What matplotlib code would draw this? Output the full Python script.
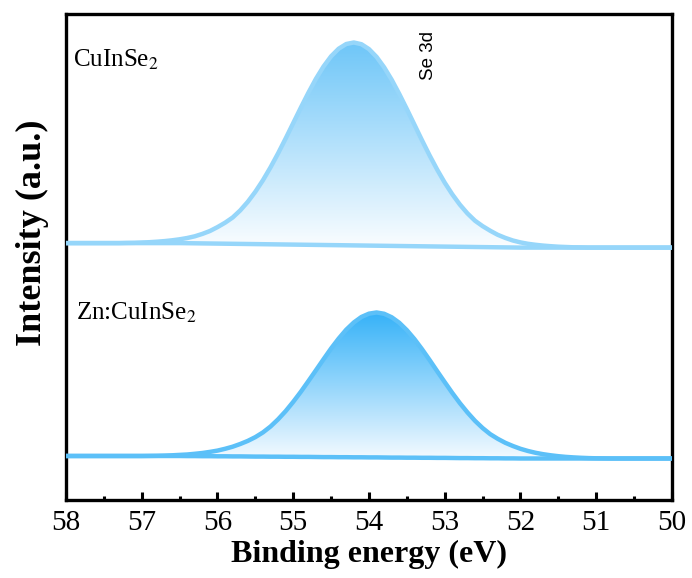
import matplotlib
matplotlib.use("Agg")
import matplotlib.pyplot as plt
import numpy as np
from matplotlib.colors import LinearSegmentedColormap
from matplotlib.ticker import MultipleLocator

plt.rcParams['font.family'] = ['Liberation Serif', 'DejaVu Serif']
plt.rcParams['mathtext.fontset'] = 'stix'

# binding energy grid (eV), 58.0 -> 50.0 in 0.1 eV steps
energy = np.round(np.arange(58.0, 49.95, -0.1), 1)

# Se 3d peak component, CuInSe2 (centre ~54.2 eV)
cis_half = [0.2, 0.3, 0.6, 0.9, 1.4, 2.0, 2.8, 3.8, 5.2, 7.0, 9.5, 12.5, 16.5, 21.0,
            26.3, 33.5, 42.2, 52.4, 64.0, 77.0, 91.1, 106.1, 121.6, 137.1, 152.1,
            166.2, 178.6, 188.9, 196.6, 201.4]
cis_peak = [0]*8 + cis_half + [203.0] + cis_half[::-1] + [0]*12

# Se 3d peak component, Zn:CuInSe2 (centre ~53.9 eV)
zn_half = [0.1, 0.2, 0.4, 0.7, 1.1, 1.6, 2.3, 3.2, 4.3, 5.7, 7.5, 9.7, 12.4, 15.6,
           19.5, 24.2, 30.2, 37.4, 45.7, 55.0, 65.1, 75.8, 86.8, 97.9, 108.7,
           118.7, 127.6, 134.9, 140.4, 143.8]
zn_peak = [0]*11 + zn_half + [145.0] + zn_half[::-1] + [0]*9

# backgrounds (offset stacked, a.u.)
cis_bg = [257.0]*16 + [256.9, 256.8, 256.7, 256.6, 256.5, 256.4, 256.3, 256.2, 256.1,
          256.0, 255.9, 255.8, 255.7, 255.6, 255.5, 255.4, 255.3, 255.2, 255.1, 255.0,
          254.9, 254.8, 254.7, 254.6, 254.5, 254.4, 254.3, 254.2, 254.1, 254.0, 253.9,
          253.8, 253.7, 253.6, 253.5, 253.4, 253.3, 253.2, 253.1, 253.0, 252.9, 252.8,
          252.7, 252.6, 252.5] + [252.5]*20
zn_bg = [44.0]*16 + [43.9, 43.9, 43.8, 43.8, 43.7, 43.7, 43.6, 43.6, 43.5, 43.4, 43.4,
         43.3, 43.3, 43.2, 43.2, 43.1, 43.1, 43.0, 42.9, 42.9, 42.8, 42.8, 42.7, 42.7,
         42.6, 42.6, 42.5, 42.4, 42.4, 42.3, 42.3, 42.2, 42.2, 42.1, 42.1, 42.0, 41.9,
         41.9, 41.8, 41.8, 41.7, 41.7, 41.6, 41.6, 41.5] + [41.5]*20

fig = plt.figure(figsize=(6.92, 5.78), dpi=100)
ax = fig.add_axes([0.0954, 0.135, 0.8756, 0.8404])


def draw(bg, peak, line_c, top_c, bot_c):
    bg = np.array(bg)
    spec = bg + np.array(peak)
    poly = ax.fill_between(energy, bg, spec, facecolor='none', edgecolor='none')
    cmap = LinearSegmentedColormap.from_list('g', [bot_c, top_c])
    grad = np.linspace(0, 1, 256).reshape(-1, 1)
    im = ax.imshow(grad, cmap=cmap, origin='lower', aspect='auto',
                   extent=(58, 50, bg.min(), spec.max()), zorder=1)
    im.set_clip_path(poly.get_paths()[0], transform=ax.transData)
    ax.plot(energy, bg, color=line_c, lw=3.2, zorder=3, solid_capstyle='butt')
    ax.plot(energy, spec, color=line_c, lw=3.2, zorder=3, solid_capstyle='butt')


draw(cis_bg, cis_peak, '#96d6fa', '#6ec6f8', '#fbfdff')
draw(zn_bg, zn_peak, '#5cc0f8', '#34b1f8', '#f3faff')

ax.set_xlim(58, 50)
ax.set_ylim(0, 486)
ax.set_yticks([])
ax.xaxis.set_major_locator(MultipleLocator(1))
ax.xaxis.set_minor_locator(MultipleLocator(0.5))
ax.tick_params(axis='x', which='major', direction='in', length=6, width=2.2,
               labelsize=21, pad=7)
ax.tick_params(axis='x', which='minor', direction='in', length=3, width=2.2)
for s in ax.spines.values():
    s.set_linewidth(2.4)

ax.set_xlabel("Binding energy (eV)", fontsize=23, fontweight='bold', labelpad=3)
ax.set_ylabel("Intensity (a.u.)", fontsize=26, fontweight='bold', labelpad=12, y=0.55)

ax.text(57.91, 433, r'CuInSe$_2$', fontsize=18, va='baseline')
ax.text(57.87, 180, r'Zn:CuInSe$_2$', fontsize=18, va='baseline')
ax.text(53.22, 420, 'Se 3d', fontsize=13.5, rotation=90, ha='center', va='bottom',
        family=['Liberation Sans', 'DejaVu Sans'])

plt.savefig("out.png", dpi=100)
